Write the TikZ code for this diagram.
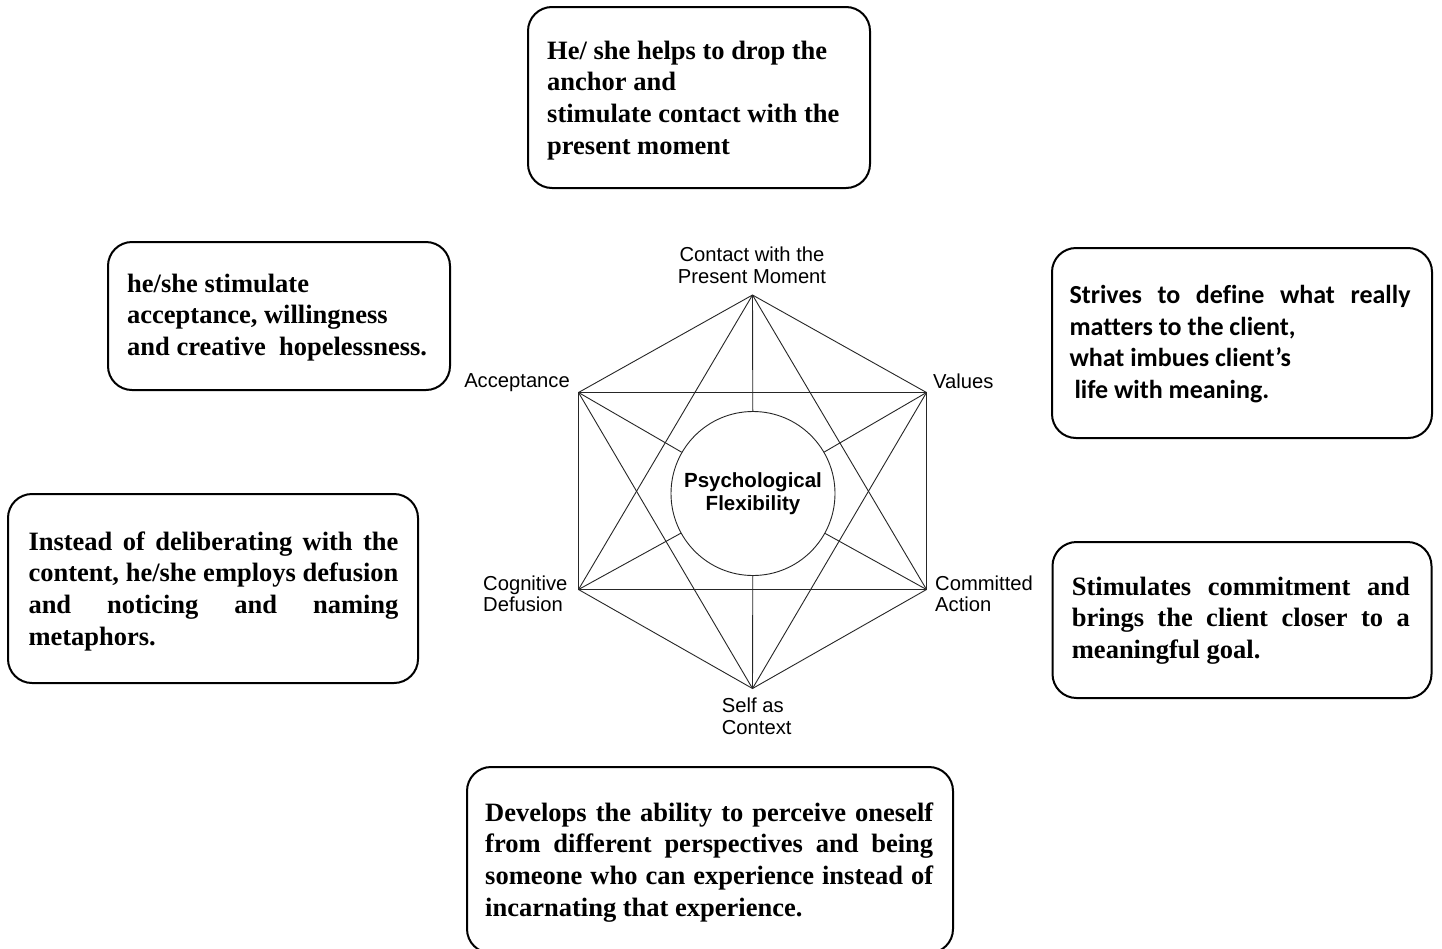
\documentclass[tikz,border=0pt]{standalone}
\usepackage{fontspec}
\setmainfont{Liberation Serif}
\newfontfamily\arialf{Liberation Sans}
\newfontfamily\calib{Carlito}[Ligatures=NoCommon]
\begin{document}
\begin{tikzpicture}[x=1pt,y=-1pt,
  box/.style={draw=black, line width=2pt, rounded corners=24pt, inner sep=0pt},
  boxtxt/.style={inner sep=0pt, anchor=base west, font=\bfseries\fontsize{26.5}{31.7}\selectfont},
  calibtxt/.style={inner sep=0pt, anchor=base west, font=\calib\bfseries\fontsize{26}{31.7}\selectfont},
  lab/.style={inner sep=0pt, font=\arialf\fontsize{20.2}{21.7}\selectfont},
  edge/.style={draw=black!85, line width=0.9pt}]
\useasboundingbox (0,0) rectangle (1442,948);
\fill[white] (0,0) rectangle (1442,948);
\clip (0,0) rectangle (1442,948);

% vertices
\coordinate (top) at (752.5,295);
\coordinate (acc) at (578.5,392.5);
\coordinate (val) at (926.5,392.5);
\coordinate (cd) at (578.5,589.5);
\coordinate (ca) at (926.5,589.5);
\coordinate (self) at (752.5,688.5);

\node[circle, draw=black!85, line width=0.9pt, minimum size=164pt, inner sep=0pt, align=center,
  font=\arialf\bfseries\fontsize{20.5}{23.4}\selectfont] (psy) at (753,493.5) {Psychological\\Flexibility};

% hexagon
\draw[edge] (top) -- (acc) -- (cd) -- (self) -- (ca) -- (val) -- (top);
% horizontals
\draw[edge] (acc) -- (val);
\draw[edge] (cd) -- (ca);
% triangles
\draw[edge] (top) -- (cd);
\draw[edge] (top) -- (ca);
\draw[edge] (self) -- (acc);
\draw[edge] (self) -- (val);
% spokes
\foreach \v in {top,acc,val,cd,ca,self} \draw[edge] (\v) -- (psy);

% labels
\node[lab, anchor=base] (lcp) at (752,261.5) {\begin{tabular}[t]{@{}c@{}}Contact with the\\Present Moment\end{tabular}};
\node[lab, anchor=base east] (lacc) at (570,387) {Acceptance};
\node[lab, anchor=base west] (lval) at (933,388) {Values};
\node[lab, anchor=base west] (lcd) at (483,590) {\begin{tabular}[t]{@{}l@{}}Cognitive\\Defusion\end{tabular}};
\node[lab, anchor=base west] (lca) at (935,590) {\begin{tabular}[t]{@{}l@{}}Committed\\Action\end{tabular}};
\node[lab, anchor=base west] (lself) at (721.7,712.3) {\begin{tabular}[t]{@{}l@{}}Self as\\Context\end{tabular}};

% boxes
\node[box, minimum width=342pt, minimum height=181pt] (b1) at (699,97.5) {};
\node[boxtxt] (t1) at (547,59) {\begin{tabular}[t]{@{}l@{}}He/ she helps to drop the\\anchor and\\stimulate contact with the\\present moment\end{tabular}};

\node[box, minimum width=342pt, minimum height=148pt] (b2) at (279,316) {};
\node[boxtxt] (t2) at (127,292) {\begin{tabular}[t]{@{}l@{}}he/she stimulate\\acceptance, willingness\\and creative\ \ hopelessness.\end{tabular}};

\node[box, minimum width=380pt, minimum height=190pt] (b3) at (1242,343) {};
\node[calibtxt] (t3) at (1069.3,303.3) {\begin{tabular}[t]{@{}l@{}}\makebox[341pt][s]{Strives to define what really}\\matters to the client,\\what imbues client’s\\\hspace*{5pt}life with meaning.\end{tabular}};

\node[box, minimum width=410pt, minimum height=189pt] (b4) at (213,588.5) {};
\node[boxtxt] (t4) at (28.3,550) {\begin{tabular}[t]{@{}l@{}}\makebox[370pt][s]{Instead of deliberating with the}\\\makebox[370pt][s]{content, he/she employs defusion}\\\makebox[370pt][s]{and noticing and naming}\\metaphors.\end{tabular}};

\node[box, minimum width=379pt, minimum height=156pt] (b5) at (1242,620) {};
\node[boxtxt] (t5) at (1071.7,595) {\begin{tabular}[t]{@{}l@{}}\makebox[338pt][s]{Stimulates commitment and}\\\makebox[338pt][s]{brings the client closer to a}\\meaningful goal.\end{tabular}};

\node[box, minimum width=486pt, minimum height=186pt] (b6) at (710,860) {};
\node[boxtxt] (t6) at (485,821) {\begin{tabular}[t]{@{}l@{}}\makebox[448pt][s]{Develops the ability to perceive oneself}\\\makebox[448pt][s]{from different perspectives and being}\\\makebox[448pt][s]{someone who can experience instead of}\\incarnating that experience.\end{tabular}};
\end{tikzpicture}
\end{document}
